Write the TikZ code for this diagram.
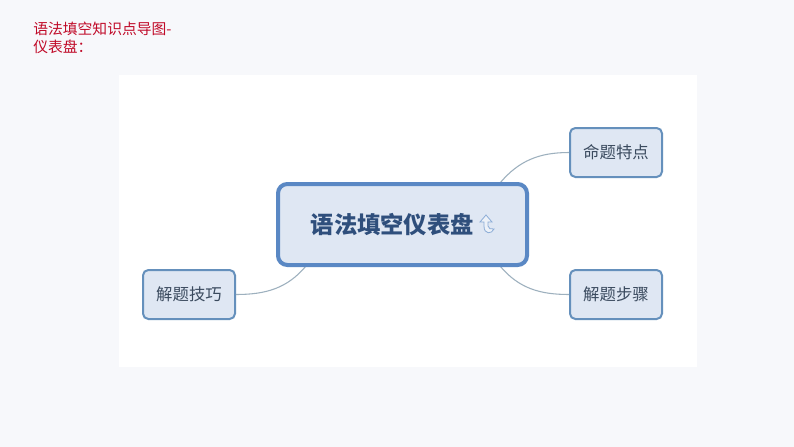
\documentclass[tikz,border=0pt]{standalone}
\usepackage{fontspec}
\newfontfamily\cjk{Noto Sans CJK SC}
\usepackage{tikz}
\definecolor{pagebg}{HTML}{F7F8FB}
\definecolor{nodefill}{HTML}{DFE7F3}
\definecolor{rootline}{HTML}{5A88C4}
\definecolor{topicline}{HTML}{6590BC}
\definecolor{rootink}{HTML}{2F4F7C}
\definecolor{topicink}{HTML}{3A4A5E}
\definecolor{branchline}{HTML}{9DB0BE}
\definecolor{titlered}{HTML}{C00A28}
\tikzset{
	rootnode/.style={draw=rootline, fill=nodefill, line width=3pt, rounded corners=7pt, minimum width=186.75pt, minimum height=60.75pt, inner sep=0pt, text=rootink, font=\cjk\bfseries\fontsize{17.5}{20}\selectfont},
	topicnode/.style={draw=topicline, fill=nodefill, line width=1.5pt, rounded corners=4pt, minimum width=69pt, minimum height=36.75pt, inner sep=0pt, text=topicink, font=\cjk\fontsize{12.3}{15}\selectfont},
	titlenode/.style={anchor=north west, inner sep=0pt, align=left, text=titlered, font=\cjk\fontsize{11.1}{13.6}\selectfont},
	branch/.style={draw=branchline, line width=0.8pt},
}

\begin{document}
\begin{tikzpicture}[x=0.75pt, y=-0.75pt]
	%%%%% START %%%%%
	\fill[pagebg] (0, 0) rectangle (794, 447);
	\useasboundingbox (0, 0) rectangle (794, 447);
	\fill[white] (119, 75) rectangle (697, 367);
	
	\node[titlenode] (title) at (33, 21.5) {语法填空知识点导图-\\仪表盘：};
	
	\node[topicnode] (features) at (616, 152.5) {命题特点};
	\node[topicnode] (steps) at (616, 294.5) {解题步骤};
	\node[topicnode] (skills) at (189, 294.5) {解题技巧};
	
	\coordinate (upright) at (500, 183);
	\coordinate (lowright) at (500, 266);
	\coordinate (lowleft) at (306, 266);
	\draw[branch] (features.west) to[out=180, in=50] (upright);
	\draw[branch] (steps.west) to[out=180, in=-50] (lowright);
	\draw[branch] (skills.east) to[out=0, in=-130] (lowleft);
	
	\node[rootnode, text width=186.75pt, align=left] (root) at (402.5, 224.5) {\hspace{24.5pt}\raisebox{-0.7pt}{语法填空仪表盘}};
	
	% small arrow mark
	\draw[line width=0.6pt, draw=rootline!70, fill=nodefill!60!white] (480, 222) -- (486, 215) -- (492, 222) -- (488, 222) -- (488, 226) .. controls (488, 229) and (491, 229) .. (494, 229) .. controls (492, 234) and (484, 235) .. (484, 226) -- (484, 222) -- cycle;
	%%%%% END %%%%%
\end{tikzpicture}
\end{document}
